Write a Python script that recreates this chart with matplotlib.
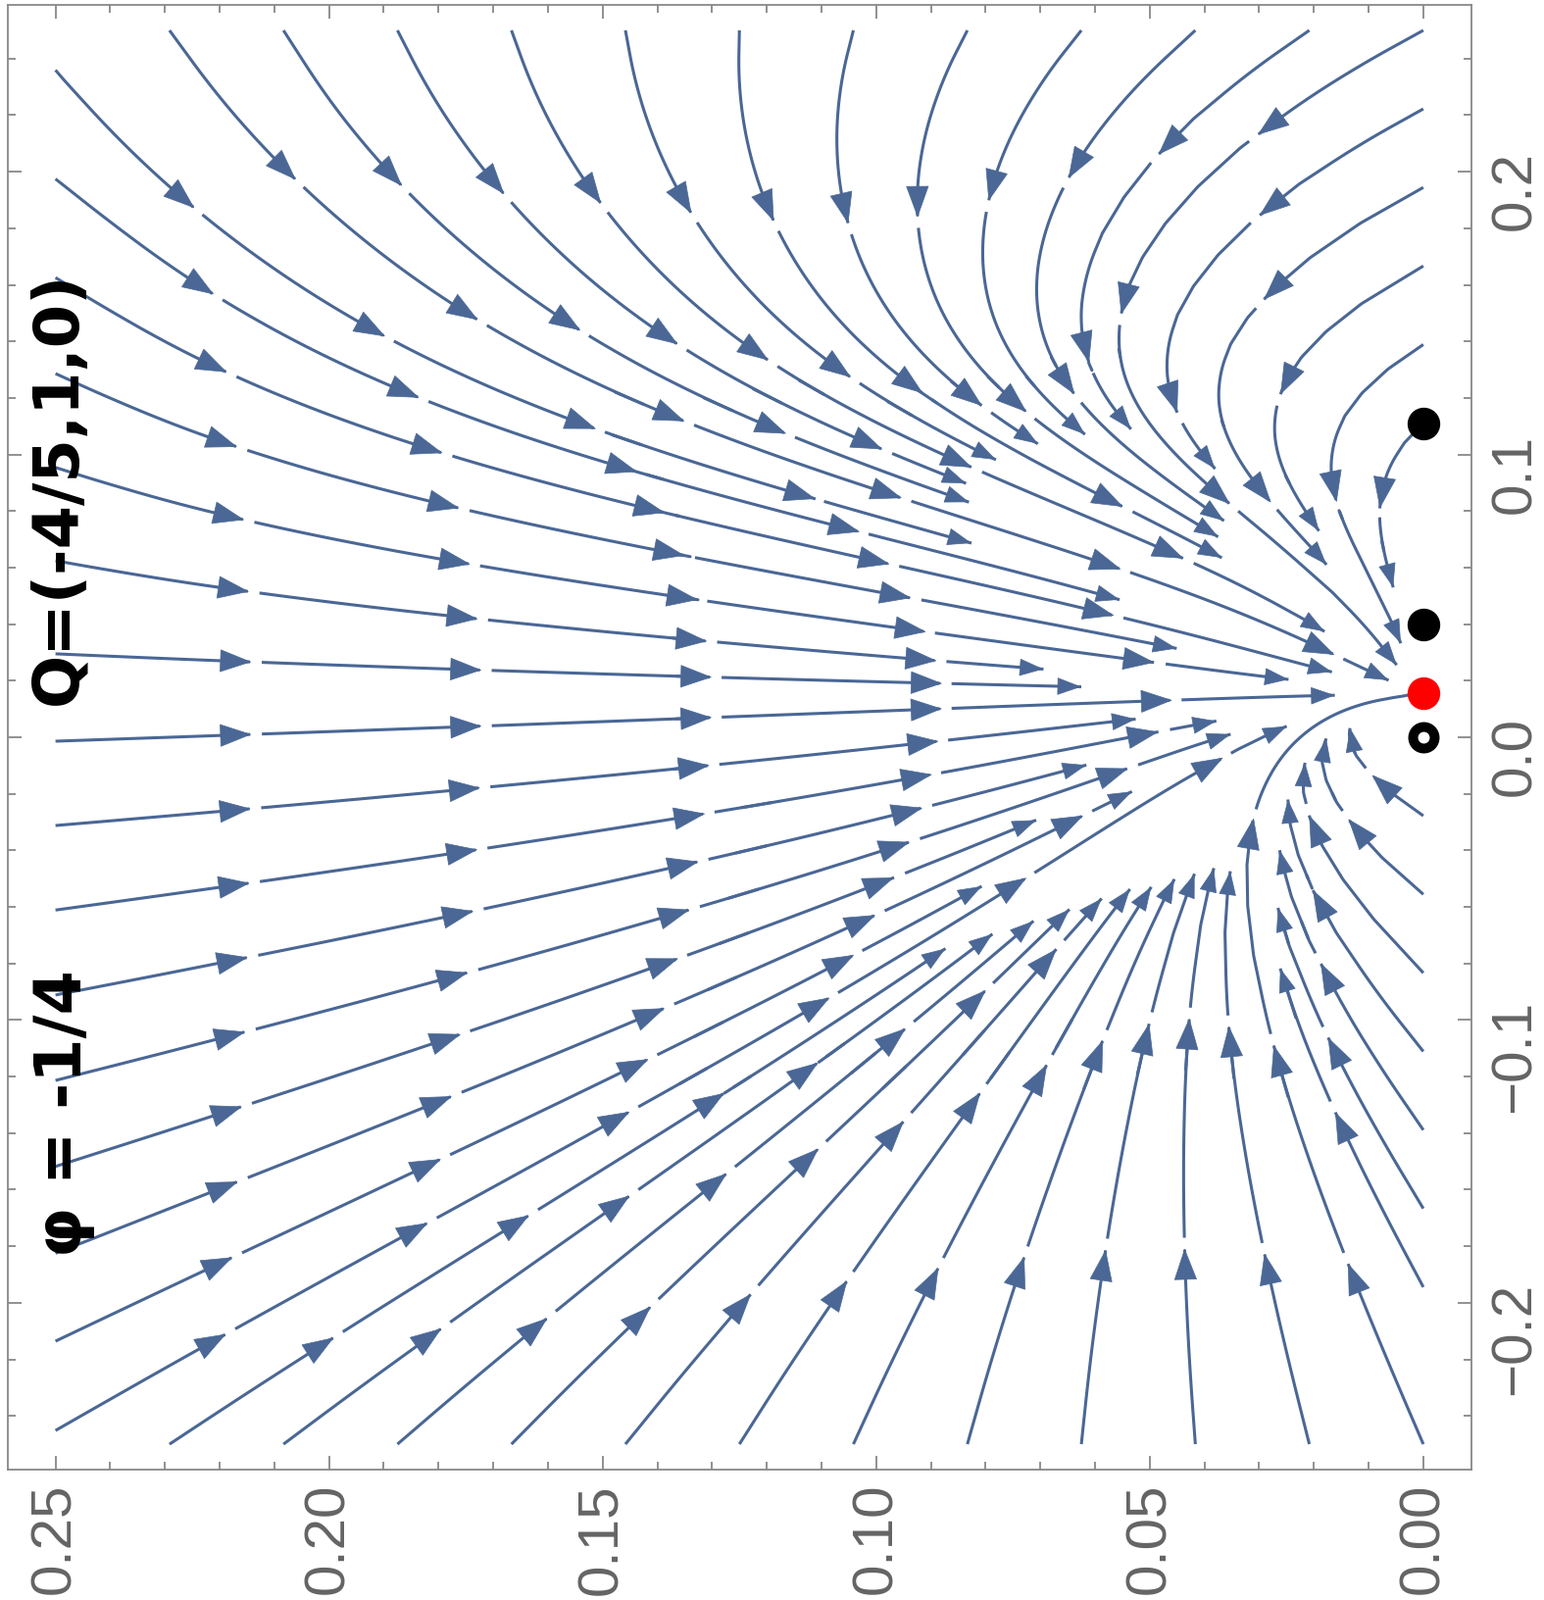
import numpy as np
import matplotlib
matplotlib.use('Agg')
import matplotlib.pyplot as plt
from matplotlib.patches import FancyArrowPatch
from matplotlib.collections import LineCollection

# fixed points sitting on the h = 0 edge (vertical coordinate)
v_node = 0.0156
v_black = [0.111, 0.04]
v_open = [0.0]

# ticks
h_ticks = [0.25, 0.20, 0.15, 0.10, 0.05, 0.00]
h_labels = ['0.25', '0.20', '0.15', '0.10', '0.05', '0.00']
v_ticks = [-0.2, -0.1, 0.0, 0.1, 0.2]
v_labels = ['\u22120.2', '\u22120.1', '0.0', '0.1', '0.2']

# field shape (flow speed dv = -(v - v_node))
node_decay = 0.8        # dh/dt = -0.8 h along the node line
top_turn = 1.5          # extra decay in h above the node
edge_drift_up = 0.1     # scale of the h-drift on the h=0 edge above the node
edge_drift_low = 0.06   # same below the node

line_col = '#4A6795'

# grid
h = np.linspace(0, 0.25, 200)
v = np.linspace(-0.25, 0.25, 400)
H, V = np.meshgrid(h, v)
Y = V - v_node
ay = np.abs(Y)
up = Y > 0

dh0 = np.where(up, Y * (1 - np.exp(-(ay / edge_drift_up) ** 3)),
               edge_drift_low * (1 - np.exp(-ay / 0.05)))
left_edge = np.where(up,
                     -0.2 + 0.085 * (1 - np.exp(-ay / 0.02)) + 0.025 * (ay / 0.23) ** 4,
                     -0.2 - 0.1 * (1 - np.exp(-ay / 0.02)) + 0.07 * (ay / 0.265) ** 2)
beta_up = -node_decay - top_turn * (1 - np.exp(-(ay / 0.06) ** 1.5))
gamma = np.where(up, (left_edge - dh0 - 0.25 * beta_up) / 0.0625, 0.0)
beta = np.where(up, beta_up, (left_edge - dh0) / 0.25)

U = dh0 + beta * H + gamma * H ** 2
W = -Y

fig = plt.figure(figsize=(15.75, 16.32), dpi=100)
ax = fig.add_axes([7.5 / 1575, 1 - 1499 / 1632, (1501 - 7.5) / 1575, (1499 - 5) / 1632])
ax.set_xlim(0.2588, -0.0088)
ax.set_ylim(-0.259, 0.259)

sp = ax.streamplot(h, v, U, W, density=(0.45, 0.65), color=line_col, linewidth=2.2,
                   arrowstyle='-', arrowsize=0.01, minlength=0.05,
                   broken_streamlines=False)

# each segment of the collection is one whole streamline
paths = [np.asarray(s) for s in sp.lines.get_segments() if len(s) > 1]
sp.lines.set_visible(False)


def chaikin(p, n=3):
    for _ in range(n):
        q = 0.75 * p[:-1] + 0.25 * p[1:]
        r = 0.25 * p[:-1] + 0.75 * p[1:]
        mid = np.empty((2 * len(q), 2))
        mid[0::2] = q
        mid[1::2] = r
        p = np.vstack([p[:1], mid, p[-1:]])
    return p


def resample(pix, step=3.0):
    d = np.r_[0, np.cumsum(np.hypot(*np.diff(pix, axis=0).T))]
    n = max(int(d[-1] / step), 2)
    s = np.linspace(0, d[-1], n)
    return np.column_stack([np.interp(s, d, pix[:, 0]), np.interp(s, d, pix[:, 1])])


# stop a streamline once it runs too close to one already drawn (Mathematica style)
thr = 17.0
occ = {}
kept = []
for p in paths:
    q = resample(chaikin(ax.transData.transform(p)))
    end = len(q)
    for i, (x, y) in enumerate(q):
        cx, cy = int(x // thr), int(y // thr)
        hit = False
        for dx in (-1, 0, 1):
            for dy in (-1, 0, 1):
                for ox, oy in occ.get((cx + dx, cy + dy), ()):
                    if (ox - x) ** 2 + (oy - y) ** 2 < thr * thr:
                        hit = True
                        break
                if hit:
                    break
            if hit:
                break
        if hit:
            end = i
            break
    cut = end < len(q)
    q = q[:end]
    if len(q) < 15:
        continue
    for x, y in q:
        occ.setdefault((int(x // thr), int(y // thr)), []).append((x, y))
    kept.append((q, cut))

inv = ax.transData.inverted()
arrow_style = '-|>,head_length=0.55,head_width=0.2'


def add_arrow(pix, d, s, scale):
    tip = [np.interp(s, d, pix[:, 0]), np.interp(s, d, pix[:, 1])]
    back = [np.interp(s - 25, d, pix[:, 0]), np.interp(s - 25, d, pix[:, 1])]
    a, b = inv.transform([back, tip])
    ax.add_patch(FancyArrowPatch(a, b, arrowstyle=arrow_style, mutation_scale=scale,
                                 color=line_col, lw=0.5, shrinkA=0, shrinkB=0, zorder=3))


# lines, with several arrowheads along each and a small gap after every tip
spacing = 235.0
first = 200.0
gap = 9.0
pieces = []
for q, cut in kept:
    d = np.r_[0, np.cumsum(np.hypot(*np.diff(q, axis=0).T))]
    total = d[-1]
    tips = []
    s = first if total > first + 40 else total * 0.55
    while s < total - 45:
        tips.append(s)
        s += spacing
    if not tips and not cut:
        tips.append(total * 0.55)
    start = 0.0
    for t in tips:
        add_arrow(q, d, t, 40)
        m = (d >= start) & (d <= t)
        if m.sum() > 1:
            pieces.append(inv.transform(q[m]))
        start = t + gap
    m = d >= start
    if m.sum() > 1:
        pieces.append(inv.transform(q[m]))
    if cut:
        add_arrow(q, d, total, 30)

ax.add_collection(LineCollection(pieces, colors=line_col, linewidths=2.2,
                                 capstyle='butt', zorder=2))

# fixed points
ax.plot([0] * len(v_black), v_black, 'o', color='black', markersize=23, zorder=5)
ax.plot([0], [v_node], 'o', color='red', markersize=23, zorder=5)
ax.plot([0] * len(v_open), v_open, 'o', markerfacecolor='white', markeredgecolor='black',
        markersize=15.8, markeredgewidth=7.2, zorder=5)

# handwritten notes
ax.text(0.2485, -0.133, '\u03c6 = -1/4', rotation=90, ha='center', va='center',
        fontsize=47, fontweight='bold', color='black')
ax.text(0.2495, 0.088, 'Q=(-4/5,1,0)', rotation=90, ha='center', va='center',
        fontsize=46, fontweight='bold', color='black')

ax.set_xticks(h_ticks)
ax.set_xticklabels(h_labels, rotation=90, family='Liberation Sans', fontsize=42, color='#646464')
ax.set_xticks(np.arange(0, 0.2501, 0.01), minor=True)
ax.set_yticks(v_ticks)
ax.set_yticklabels(v_labels, rotation=90, family='Liberation Sans', fontsize=42, color='#646464')
ax.set_yticks(np.arange(-0.24, 0.2401, 0.02), minor=True)

ax.tick_params(which='both', direction='in', top=True, bottom=True, left=True, right=True,
               labelleft=False, labelright=True, color='#888888', width=1.3)
ax.tick_params(which='major', length=10)
ax.tick_params(which='minor', length=6)
ax.tick_params(axis='x', pad=10)
ax.tick_params(axis='y', pad=13)
for s in ax.spines.values():
    s.set_color('#888888')
    s.set_linewidth(1.3)

fig.savefig('out.png', dpi=100)
